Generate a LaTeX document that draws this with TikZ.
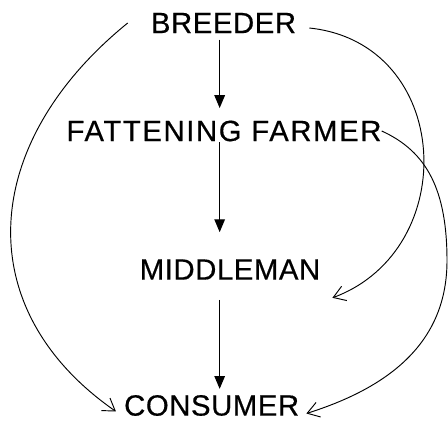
\documentclass[tikz,border=0pt]{standalone}
\usepackage{fontspec}
\setmainfont{Liberation Sans}[LetterSpace=2, FakeBold=0.5]
\usetikzlibrary{arrows.meta, positioning, calc}
\tikzset{
  actor/.style={inner sep=0pt, font=\fontsize{25}{30}\selectfont},
  arrow/.style={-{Triangle[length=11pt, width=9pt]}, line width=1pt},
  flow/.style={-{Straight Barb[length=10pt, width=13pt]}, line width=0.8pt}
}

\begin{document}
\begin{tikzpicture}
  \useasboundingbox (0,0) rectangle (13.44,12.72);

  \node[actor] (br) at (6.705,12.03) {BREEDER};
  \node[actor] (ff) at (6.72,8.79) {\addfontfeature{LetterSpace=5.5}FATTENING FARMER};
  \node[actor] (mm) at (6.9,4.635) {MIDDLEMAN};
  \node[actor] (co) at (6.35,0.555) {CONSUMER};

  \coordinate (spine) at (6.59,0);
  \coordinate (bend) at (13.41,4.9);

  \draw[arrow, shorten <=0.19cm, shorten >=0.37cm] (br.south -| spine) -- (ff.north -| spine);
  \draw[arrow, shorten <=0.02cm, shorten >=0.81cm] (ff.south -| spine) -- (mm.north -| spine);
  \draw[arrow, shorten <=0.6cm, shorten >=0.18cm] (mm.south -| spine) -- (co.north -| spine);

  \draw[flow] ([xshift=-0.69cm]br.west) .. controls +(-4.44,-3.6) and +(-4.43,3.08) .. ([xshift=-0.24cm, yshift=-0.18cm]co.west);
  \draw[flow] ([xshift=0.39cm, yshift=-0.15cm]br.east) .. controls +(4.3,-0.45) and +(3.9,1.45) .. ([xshift=0.36cm, yshift=-0.54cm]mm.south east);
  \draw[flow] (ff.east) .. controls +(1.37,-0.62) and +(0,2.1) .. (bend) .. controls +(0,-2.4) and +(2.57,0.81) .. ([xshift=0.21cm, yshift=-0.24cm]co.east);

\end{tikzpicture}
\end{document}
